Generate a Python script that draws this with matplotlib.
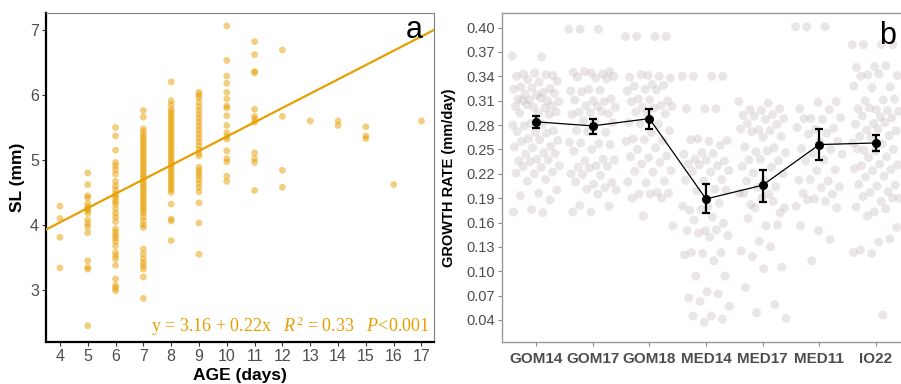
import numpy as np
import matplotlib
matplotlib.use("Agg")
import matplotlib.pyplot as plt

plt.rcParams['font.family'] = ['Liberation Sans', 'DejaVu Sans']
plt.rcParams['mathtext.fontset'] = 'custom'
plt.rcParams['mathtext.rm'] = 'Liberation Serif'
plt.rcParams['mathtext.it'] = 'Liberation Serif:italic'

# ---- panel a: standard length by age ----
ages = [4, 5, 6, 7, 8, 9, 10, 11, 12, 13, 14, 15, 16, 17]
sl_4 = [4.29, 4.10, 3.81, 3.34]
sl_5 = [4.80, 4.62, 4.45, 4.42, 4.33, 4.28, 4.25, 4.22, 4.18, 4.08, 4.02, 3.97,
        3.88, 3.45, 3.35, 3.32, 2.45]
sl_6 = [5.50, 5.37, 5.15, 4.96, 4.91, 4.85, 4.78, 4.67, 4.60, 4.54, 4.48, 4.45,
        4.41, 4.36, 4.32, 4.25, 4.18, 4.12, 4.05, 3.94, 3.89, 3.84, 3.80, 3.75,
        3.68, 3.58, 3.53, 3.48, 3.38, 3.17, 3.07, 3.03, 2.99]
sl_7 = [5.76, 5.66, 5.48, 5.43, 5.38, 5.34, 5.30, 5.26, 5.22, 5.18, 5.14, 5.10,
        5.06, 5.02, 4.98, 4.94, 4.90, 4.86, 4.82, 4.78, 4.74, 4.70, 4.66, 4.62,
        4.58, 4.54, 4.50, 4.46, 4.42, 4.38, 4.34, 4.30, 4.26, 4.22, 4.18, 4.12,
        4.06, 4.00, 3.96, 3.63, 3.55, 3.48, 3.42, 3.37, 3.32, 3.20, 2.87]
sl_8 = [6.20, 5.91, 5.85, 5.78, 5.74, 5.70, 5.66, 5.62, 5.58, 5.54, 5.50, 5.46,
        5.42, 5.38, 5.34, 5.30, 5.26, 5.22, 5.18, 5.14, 5.10, 5.06, 5.02, 4.98,
        4.94, 4.90, 4.86, 4.82, 4.78, 4.74, 4.70, 4.66, 4.62, 4.58, 4.54, 4.50,
        4.32, 4.09, 4.06, 3.76]
sl_9 = [6.04, 6.00, 5.96, 5.89, 5.82, 5.76, 5.70, 5.64, 5.58, 5.52, 5.46, 5.40,
        5.34, 5.28, 5.22, 5.16, 5.10, 5.06, 4.89, 4.84, 4.80, 4.75, 4.70, 4.64,
        4.58, 4.51, 4.34, 4.03, 3.55]
sl_10 = [7.06, 6.53, 6.29, 6.18, 6.04, 5.94, 5.83, 5.80, 5.68, 5.53, 5.42, 5.36,
         5.32, 5.14, 5.02, 4.97, 4.75, 4.67]
sl_11 = [6.82, 6.62, 6.36, 6.34, 5.78, 5.67, 5.63, 5.58, 5.11, 5.02, 4.96, 4.53]
sl_12 = [6.69, 5.67, 4.84, 4.58]
sl_13 = [5.60]
sl_14 = [5.60, 5.53]
sl_15 = [5.51, 5.37, 5.33]
sl_16 = [4.62]
sl_17 = [5.60]
sl_lists = [sl_4, sl_5, sl_6, sl_7, sl_8, sl_9, sl_10, sl_11, sl_12, sl_13,
            sl_14, sl_15, sl_16, sl_17]

fit_intercept = 3.16
fit_slope = 0.22
fit_r2 = 0.33

# ---- panel b: growth rate by site ----
groups = ['GOM14', 'GOM17', 'GOM18', 'MED14', 'MED17', 'MED11', 'IO22']
gom14 = [0.365, 0.364, 0.343, 0.341, 0.344, 0.340, 0.342, 0.336, 0.334, 0.333,
         0.327, 0.325, 0.326, 0.324, 0.320, 0.318, 0.319, 0.317, 0.312, 0.310,
         0.311, 0.309, 0.313, 0.310, 0.304, 0.302, 0.303, 0.301, 0.305, 0.296,
         0.294, 0.295, 0.293, 0.282, 0.280, 0.281, 0.279, 0.273, 0.271, 0.272,
         0.270, 0.263, 0.261, 0.262, 0.260, 0.254, 0.252, 0.253, 0.246, 0.244,
         0.245, 0.238, 0.236, 0.237, 0.235, 0.230, 0.228, 0.229, 0.222, 0.220,
         0.221, 0.213, 0.211, 0.200, 0.196, 0.193, 0.188, 0.176, 0.173, 0.172]
gom17 = [0.398, 0.398, 0.398, 0.346, 0.344, 0.345, 0.343, 0.346, 0.340, 0.338,
         0.339, 0.337, 0.324, 0.322, 0.323, 0.321, 0.312, 0.310, 0.311, 0.309,
         0.304, 0.302, 0.303, 0.296, 0.294, 0.295, 0.293, 0.297, 0.285, 0.283,
         0.284, 0.273, 0.271, 0.272, 0.259, 0.257, 0.258, 0.256, 0.250, 0.248,
         0.238, 0.236, 0.237, 0.230, 0.228, 0.229, 0.227, 0.220, 0.218, 0.219,
         0.209, 0.207, 0.210, 0.203, 0.201, 0.200, 0.195, 0.181, 0.180, 0.173,
         0.173]
gom18 = [0.389, 0.389, 0.389, 0.389, 0.341, 0.339, 0.340, 0.342, 0.338, 0.330,
         0.328, 0.329, 0.324, 0.322, 0.323, 0.312, 0.310, 0.311, 0.309, 0.304,
         0.302, 0.303, 0.301, 0.296, 0.294, 0.295, 0.283, 0.281, 0.282, 0.273,
         0.271, 0.263, 0.261, 0.262, 0.260, 0.252, 0.250, 0.242, 0.240, 0.241,
         0.234, 0.232, 0.224, 0.222, 0.223, 0.211, 0.209, 0.210, 0.197, 0.195,
         0.196, 0.195, 0.190, 0.190, 0.168, 0.156]
med14 = [0.340, 0.340, 0.340, 0.340, 0.300, 0.300, 0.300, 0.263, 0.261, 0.260,
         0.262, 0.255, 0.246, 0.244, 0.245, 0.238, 0.236, 0.237, 0.232, 0.230,
         0.231, 0.224, 0.222, 0.223, 0.213, 0.211, 0.212, 0.201, 0.199, 0.200,
         0.180, 0.175, 0.184, 0.176, 0.180, 0.167, 0.163, 0.159, 0.150, 0.150,
         0.151, 0.147, 0.144, 0.142, 0.123, 0.123, 0.122, 0.120, 0.113, 0.094,
         0.094, 0.075, 0.067, 0.072, 0.063, 0.057, 0.045, 0.045, 0.041, 0.037]
med17 = [0.309, 0.307, 0.299, 0.300, 0.298, 0.292, 0.293, 0.291, 0.288, 0.287,
         0.282, 0.281, 0.274, 0.275, 0.273, 0.272, 0.266, 0.265, 0.253, 0.252,
         0.247, 0.246, 0.248, 0.237, 0.236, 0.238, 0.229, 0.228, 0.221, 0.220,
         0.212, 0.211, 0.204, 0.203, 0.196, 0.195, 0.182, 0.172, 0.190, 0.196,
         0.186, 0.178, 0.178, 0.156, 0.165, 0.157, 0.137, 0.125, 0.130, 0.118,
         0.105, 0.103, 0.080, 0.059, 0.049, 0.042]
med11 = [0.401, 0.401, 0.401, 0.309, 0.308, 0.300, 0.299, 0.288, 0.289, 0.287,
         0.288, 0.276, 0.275, 0.277, 0.270, 0.269, 0.260, 0.259, 0.251, 0.250,
         0.245, 0.244, 0.237, 0.236, 0.225, 0.224, 0.212, 0.211, 0.213, 0.204,
         0.203, 0.196, 0.195, 0.189, 0.180, 0.186, 0.188, 0.178, 0.150, 0.156,
         0.139, 0.113]
io22 = [0.379, 0.379, 0.379, 0.379, 0.352, 0.351, 0.353, 0.342, 0.341, 0.343,
        0.340, 0.327, 0.326, 0.328, 0.311, 0.310, 0.312, 0.299, 0.300, 0.298,
        0.301, 0.297, 0.290, 0.291, 0.289, 0.282, 0.281, 0.283, 0.274, 0.273,
        0.275, 0.266, 0.267, 0.265, 0.258, 0.257, 0.249, 0.250, 0.248, 0.251,
        0.241, 0.240, 0.231, 0.232, 0.230, 0.225, 0.224, 0.226, 0.217, 0.216,
        0.206, 0.205, 0.207, 0.198, 0.197, 0.190, 0.186, 0.192, 0.190, 0.173,
        0.179, 0.177, 0.168, 0.154, 0.136, 0.126, 0.140, 0.122, 0.123, 0.046]
group_values = [gom14, gom17, gom18, med14, med17, med11, io22]

gr_mean = [0.284, 0.279, 0.288, 0.189, 0.206, 0.256, 0.258]
gr_low = [0.277, 0.269, 0.275, 0.172, 0.185, 0.237, 0.248]
gr_high = [0.291, 0.288, 0.300, 0.207, 0.225, 0.275, 0.268]
gr_ticks = [0.04, 0.07, 0.10, 0.13, 0.16, 0.19, 0.22, 0.25, 0.28, 0.31, 0.34,
            0.37, 0.40]

orange = '#E69F00'
tick_grey = '#4D4D4D'

fig = plt.figure(figsize=(9.01, 3.84), dpi=100)
W, H = 901.0, 384.0
ax1 = fig.add_axes([46 / W, 42 / H, 388 / W, 329 / H])
ax2 = fig.add_axes([502 / W, 42 / H, 408 / W, 329 / H])

# panel a
for age, vals in zip(ages, sl_lists):
    ax1.scatter([age] * len(vals), vals, s=24, color=orange, alpha=0.5,
                edgecolors='none', zorder=2)
xx = np.array([3.5, 17.45])
ax1.plot(xx, fit_intercept + fit_slope * xx, color=orange, lw=1.6, zorder=3)
ax1.set_xlim(3.5, 17.45)
ax1.set_ylim(2.2, 7.26)
ax1.set_xticks(ages)
ax1.set_yticks([3, 4, 5, 6, 7])
ax1.tick_params(labelsize=11.5, labelcolor=tick_grey, length=3, width=0.8,
                color='#333333', pad=2)
for side in ['top', 'right']:
    ax1.spines[side].set_color('#808080')
    ax1.spines[side].set_linewidth(0.8)
for side in ['left', 'bottom']:
    ax1.spines[side].set_color('black')
    ax1.spines[side].set_linewidth(1.6)
ax1.set_ylabel('SL (mm)', fontsize=12.5, fontweight='bold')
ax1.yaxis.set_label_coords(-0.054, 0.5)
ax1.set_xlabel('AGE (days)', fontsize=12.5, fontweight='bold')
ax1.xaxis.set_label_coords(0.5, -0.078)
ax1.text(0.948, 0.923, 'a', transform=ax1.transAxes, fontsize=22,
         ha='center', va='baseline')
ax1.text(0.99, 0.03,
         f'y = {fit_intercept:.2f} + {fit_slope:.2f}x   $R^2$ = {fit_r2:.2f}   $P$<0.001',
         transform=ax1.transAxes, ha='right', va='baseline', fontsize=13,
         color=orange, family='Liberation Serif')

# panel b
pos = np.arange(1, len(groups) + 1)
for p, vals in zip(pos, group_values):
    k = np.arange(len(vals))
    jit = ((k * 0.618034) % 1.0 - 0.5) * 2 * 0.42
    ax2.scatter(p + jit, vals, s=42, color=(0.72, 0.66, 0.66), alpha=0.28,
                edgecolors='none', zorder=1)
m = np.array(gr_mean)
ax2.plot(pos, m, color='black', lw=0.9, zorder=3)
ax2.errorbar(pos, m, yerr=[m - np.array(gr_low), np.array(gr_high) - m],
             fmt='o', color='black', ms=5.5, elinewidth=1.6, capsize=2.8,
             capthick=1.6, zorder=4)
ax2.set_xlim(0.4, 7.6)
ax2.set_ylim(0.0129, 0.418)
ax2.set_xticks(pos)
ax2.set_xticklabels(groups, fontsize=11, fontweight='bold', color=tick_grey)
ax2.set_yticks(gr_ticks)
ax2.set_yticklabels([f'{t:.2f}' for t in gr_ticks], fontsize=10.5,
                    color=tick_grey)
ax2.tick_params(axis='both', length=3, width=0.8, color='#888888', pad=2)
ax2.tick_params(axis='x', pad=4)
for side in ax2.spines:
    ax2.spines[side].set_color('#999999')
    ax2.spines[side].set_linewidth(1.0)
ax2.set_ylabel('GROWTH RATE (mm/day)', fontsize=10.5, fontweight='bold')
ax2.yaxis.set_label_coords(-0.112, 0.5)
ax2.text(0.946, 0.905, 'b', transform=ax2.transAxes, fontsize=22,
         ha='center', va='baseline')

fig.savefig('out.png', dpi=100)
